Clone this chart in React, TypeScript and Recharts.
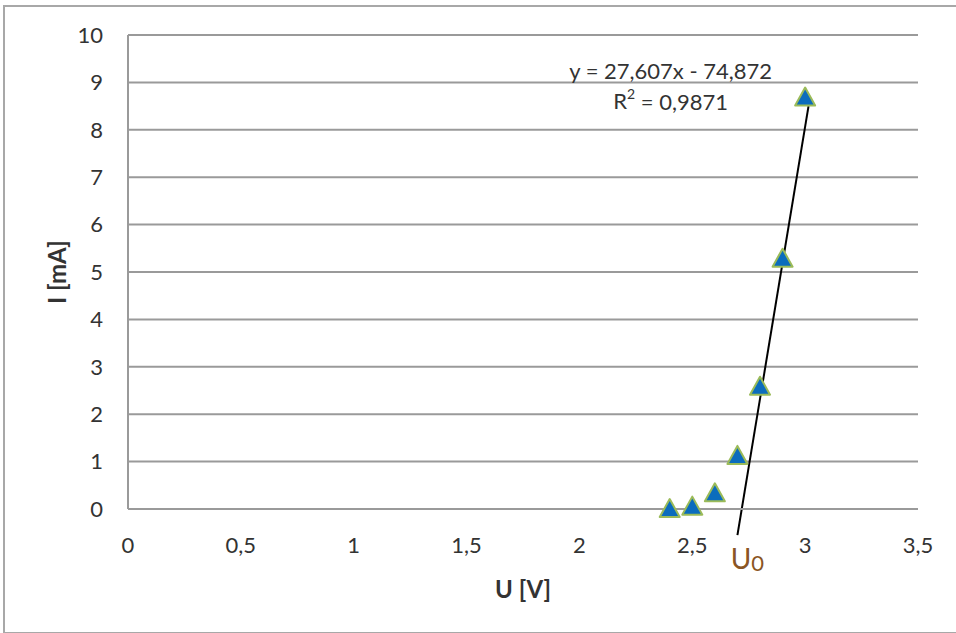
import React from 'react';
import {
  ScatterChart,
  Scatter,
  XAxis,
  YAxis,
  CartesianGrid,
  ReferenceLine,
  ReferenceDot,
  Label
} from 'recharts';

// measured points: U in volts, I in mA
const voltage = [2.4, 2.5, 2.6, 2.7, 2.8, 2.9, 3.0];
const current = [0, 0.05, 0.33, 1.12, 2.58, 5.28, 8.68];

const xTicks = [0, 0.5, 1, 1.5, 2, 2.5, 3, 3.5];
const yTicks = [0, 1, 2, 3, 4, 5, 6, 7, 8, 9, 10];

// end points of the drawn fit line
const trendLine = [
  { u: 2.7, i: -0.55 },
  { u: 3.015, i: 8.5 }
];

const equationText = 'y = 27,607x - 74,872';
const rSquaredValue = '0,9871';

const points = voltage.map((u, k) => ({ u, i: current[k] }));

const FONT = 'Lato, "Open Sans", sans-serif';
const TEXT = '#333333';
const GRID = '#9a9a9a';

const fmt = (v: number) => String(v).replace('.', ',');

const Triangle = (props: any) => {
  const { cx, cy } = props;
  return (
    <polygon
      points={`${cx},${cy - 10} ${cx + 10},${cy + 8} ${cx - 10},${cy + 8}`}
      fill="#0b6cbd"
      stroke="#9bbb59"
      strokeWidth={2}
      strokeLinejoin="round"
    />
  );
};

export default function App() {
  return (
    <div
      style={{
        position: 'absolute',
        left: 0,
        top: 0,
        width: 956,
        height: 633,
        overflow: 'hidden',
        background: '#fff',
        fontFamily: FONT
      }}
    >
      <div
        style={{
          position: 'absolute',
          left: 3,
          top: 5,
          width: 980,
          height: 625,
          border: '2px solid #a8a8a8'
        }}
      />
      <div style={{ position: 'absolute', left: 0, top: 0 }}>
        <ScatterChart
          width={956}
          height={633}
          margin={{ top: 35, right: 38, bottom: 0, left: 0 }}
        >
          <CartesianGrid vertical={false} stroke={GRID} strokeWidth={2} />
          <XAxis
            type="number"
            dataKey="u"
            domain={[0, 3.5]}
            ticks={xTicks}
            tickFormatter={fmt}
            height={124}
            tickSize={0}
            tickMargin={28}
            tickLine={false}
            axisLine={{ stroke: GRID, strokeWidth: 2 }}
            tick={{ fill: TEXT, fontSize: 22, fontFamily: FONT }}
          >
            <Label
              content={({ viewBox }: any) => (
                <text
                  x={viewBox.x + viewBox.width / 2}
                  y={viewBox.y + 79}
                  textAnchor="middle"
                  dominantBaseline="central"
                  fontSize={24}
                  fontWeight="bold"
                  fontFamily={FONT}
                  fill={TEXT}
                >
                  U [V]
                </text>
              )}
            />
          </XAxis>
          <YAxis
            type="number"
            dataKey="i"
            domain={[0, 10]}
            ticks={yTicks}
            width={128}
            tickSize={0}
            tickMargin={25}
            tickLine={false}
            axisLine={{ stroke: GRID, strokeWidth: 2 }}
            tick={{ fill: TEXT, fontSize: 22, fontFamily: FONT }}
          >
            <Label
              content={({ viewBox }: any) => {
                const x = viewBox.x + 56;
                const y = viewBox.y + viewBox.height / 2;
                return (
                  <text
                    x={x}
                    y={y}
                    transform={`rotate(-90, ${x}, ${y})`}
                    textAnchor="middle"
                    dominantBaseline="central"
                    fontSize={24}
                    fontWeight="bold"
                    fontFamily={FONT}
                    fill={TEXT}
                  >
                    I [mA]
                  </text>
                );
              }}
            />
          </YAxis>
          <ReferenceLine
            segment={[
              { x: trendLine[0].u, y: trendLine[0].i },
              { x: trendLine[1].u, y: trendLine[1].i }
            ]}
            stroke="#000"
            strokeWidth={2}
            ifOverflow="visible"
          />
          <Scatter
            data={points}
            shape={Triangle}
            isAnimationActive={false}
          />
          <ReferenceDot
            x={2.404}
            y={9.26}
            r={0}
            ifOverflow="visible"
            shape={(p: any) => (
              <text
                x={p.cx}
                y={p.cy}
                textAnchor="middle"
                dominantBaseline="central"
                fontSize={22}
                fontFamily={FONT}
                fill={TEXT}
              >
                {equationText}
              </text>
            )}
          />
          <ReferenceDot
            x={2.404}
            y={8.61}
            r={0}
            ifOverflow="visible"
            shape={(p: any) => (
              <text
                x={p.cx}
                y={p.cy}
                textAnchor="middle"
                dominantBaseline="central"
                fontSize={22}
                fontFamily={FONT}
                fill={TEXT}
              >
                R<tspan fontSize={14} dy={-8}>2</tspan>
                <tspan dy={8}> = {rSquaredValue}</tspan>
              </text>
            )}
          />
          <ReferenceDot
            x={2.744}
            y={-1.03}
            r={0}
            ifOverflow="visible"
            shape={(p: any) => (
              <text
                x={p.cx}
                y={p.cy}
                textAnchor="middle"
                dominantBaseline="central"
                fontSize={28}
                fontFamily={FONT}
                fill="#8a5523"
              >
                U<tspan fontSize={22} dy={4}>0</tspan>
              </text>
            )}
          />
        </ScatterChart>
      </div>
    </div>
  );
}
